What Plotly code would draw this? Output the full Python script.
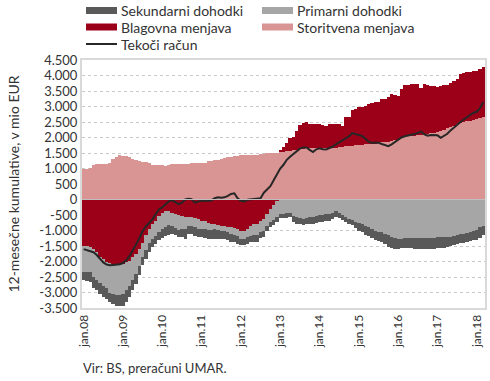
import plotly.graph_objects as go

# ---------------- data ----------------
MONTHS = ["jan", "feb", "mar", "apr", "maj", "jun", "jul", "avg", "sep", "okt", "nov", "dec"]
YEARS = ["08", "09", "10", "11", "12", "13", "14", "15", "16", "17", "18"]
categories = [f"{m}.{y}" for y in YEARS for m in MONTHS][:123]

storitvena = [
    970, 990, 1010, 1120, 1150, 1160, 1160, 1160, 1170, 1300,
    1380, 1420, 1410, 1390, 1360, 1300, 1260, 1240, 1220, 1200,
    1180, 1110, 1100, 1110, 1100, 1090, 1100, 1130, 1150, 1150,
    1150, 1140, 1150, 1180, 1180, 1180, 1190, 1180, 1240, 1250,
    1260, 1270, 1300, 1340, 1360, 1370, 1400, 1410, 1420, 1430,
    1420, 1430, 1440, 1450, 1460, 1480, 1490, 1490, 1500, 1510,
    1520, 1530, 1560, 1580, 1590, 1600, 1620, 1640, 1650, 1650,
    1660, 1650, 1660, 1660, 1670, 1660, 1670, 1670, 1680, 1690,
    1710, 1720, 1740, 1750, 1760, 1770, 1780, 1780, 1790, 1800,
    1820, 1840, 1850, 1860, 1880, 1920, 1960, 2000, 2020, 2040,
    2050, 2060, 2070, 2080, 2100, 2120, 2140, 2160, 2180, 2200,
    2250, 2300, 2330, 2380, 2430, 2470, 2490, 2520, 2540, 2570,
    2600, 2630, 2670,
]

blagovna = [
    -1500, -1510, -1530, -1600, -1700, -1850, -1930, -2000, -2060, -2090,
    -2100, -2090, -2080, -2030, -1980, -1870, -1770, -1600, -1390, -1150,
    -960, -800, -680, -520, -450, -380, -370, -440, -460, -500,
    -530, -560, -560, -580, -600, -640, -680, -700, -760, -790,
    -800, -820, -840, -860, -880, -900, -930, -960, -1000, -1010,
    -960, -840, -800, -780, -700, -620, -470, -320, -170, -60,
    80, 170, 270, 410, 430, 600, 790, 840, 840, 770,
    780, 800, 770, 730, 710, 780, 780, 760, 740, 690,
    940, 940, 1160, 1180, 1210, 1210, 1250, 1290, 1310, 1330,
    1320, 1400, 1380, 1440, 1520, 1460, 1390, 1560, 1670, 1660,
    1670, 1650, 1650, 1530, 1620, 1580, 1530, 1490, 1460, 1460,
    1440, 1400, 1440, 1450, 1450, 1570, 1590, 1590, 1580, 1560,
    1540, 1590, 1590,
]

primarni = [
    -840, -830, -810, -900, -900, -850, -870, -870, -940, -960,
    -990, -1000, -980, -900, -820, -730, -630, -550, -460, -470,
    -440, -470, -490, -530, -500, -500, -460, -410, -460, -470,
    -430, -380, -310, -260, -280, -300, -270, -260, -220, -180,
    -160, -160, -160, -150, -170, -220, -220, -230, -260, -260,
    -250, -330, -360, -370, -360, -410, -380, -420, -490, -520,
    -480, -470, -440, -450, -520, -560, -600, -620, -590, -570,
    -560, -530, -510, -490, -470, -460, -430, -360, -420, -500,
    -560, -630, -660, -720, -770, -800, -860, -900, -950, -1000,
    -1040, -1060, -1100, -1150, -1200, -1250, -1270, -1260, -1240, -1230,
    -1240, -1250, -1240, -1230, -1240, -1250, -1240, -1230, -1220, -1210,
    -1210, -1200, -1200, -1190, -1150, -1120, -1100, -1090, -1060, -1010,
    -980, -900, -840,
]

sekundarni = [
    -260, -300, -330, -350, -330, -340, -350, -350, -300, -330,
    -340, -340, -360, -370, -340, -330, -310, -290, -270, -290,
    -290, -260, -255, -250, -290, -300, -330, -250, -230, -250,
    -240, -320, -250, -260, -300, -270, -270, -280, -290, -300,
    -320, -300, -270, -250, -250, -250, -230, -230, -210, -210,
    -210, -210, -210, -210, -190, -170, -160, -160, -170, -160,
    -130, -140, -150, -130, -200, -220, -200, -190, -200, -210,
    -230, -240, -230, -220, -210, -220, -200, -210, -190, -150,
    -160, -150, -170, -200, -230, -250, -270, -290, -300, -310,
    -300, -300, -350, -380, -380, -360, -330, -310, -320, -330,
    -330, -340, -360, -380, -370, -350, -350, -360, -360, -360,
    -350, -320, -290, -290, -290, -280, -290, -280, -280, -310,
    -320, -330, -320,
]

tekoci_racun = [
    -1600, -1630, -1660, -1700, -1790, -1900, -2030, -2100, -2120, -2110,
    -2100, -2090, -2050, -1960, -1820, -1650, -1450, -1250, -1020, -870,
    -740, -640, -470, -320, -250, -150, -60, -20, -80, -150,
    -100, 0, 20, 10, -100, -60, -50, -30, -40, -30,
    40, 75, 60, 70, 120, 180, 200, 40, -40, -60,
    -10, 0, 30, 20, 40, 220, 330, 430, 620, 820,
    1000, 1120, 1280, 1380, 1460, 1560, 1640, 1680, 1680, 1600,
    1530, 1620, 1650, 1620, 1610, 1660, 1700, 1780, 1840, 1900,
    1960, 2040, 2140, 2110, 2070, 2050, 1960, 1860, 1830, 1820,
    1830, 1790, 1760, 1720, 1780, 1850, 1920, 2000, 2040, 2060,
    2090, 2110, 2150, 2190, 2100, 2060, 2080, 2080, 2070, 1990,
    2060, 2120, 2230, 2330, 2420, 2500, 2580, 2650, 2730, 2800,
    2830, 2950, 3150,
]

x_tick_labels = ["jan.08", "jan.09", "jan.10", "jan.11", "jan.12", "jan.13",
                 "jan.14", "jan.15", "jan.16", "jan.17", "jan.18"]
y_tick_values = [-3500, -3000, -2500, -2000, -1500, -1000, -500, 0,
                 500, 1000, 1500, 2000, 2500, 3000, 3500, 4000, 4500]
y_tick_labels = ["-3.500", "-3.000", "-2.500", "-2.000", "-1.500", "-1.000", "-500", "0",
                 "500", "1.000", "1.500", "2.000", "2.500", "3.000", "3.500", "4.000", "4.500"]

names = {
    "sek": "Sekundarni dohodki",
    "prim": "Primarni dohodki",
    "blag": "Blagovna menjava",
    "stor": "Storitvena menjava",
    "tr": "Tekoči račun",
}

# ---------------- styling ----------------
C_SEK = "#595959"
C_PRIM = "#a6a6a6"
C_BLAG = "#9c0019"
C_STOR = "#d99594"
C_LINE = "#262626"
FONT = "Lato"
TXT = "#333333"

W, H = 490, 381
ML, MR, MT, MB = 82, 5, 60, 73
PW, PH = W - ML - MR, H - MT - MB


def px(x):
    return (x - ML) / PW


def py(y):
    return (H - MB - y) / PH


fig = go.Figure()
for key, vals, col in [("stor", storitvena, C_STOR), ("blag", blagovna, C_BLAG),
                       ("prim", primarni, C_PRIM), ("sek", sekundarni, C_SEK)]:
    fig.add_trace(go.Bar(x=categories, y=vals, name=names[key],
                         marker=dict(color=col, line=dict(width=0)),
                         showlegend=False))
fig.add_trace(go.Scatter(x=categories, y=tekoci_racun, name=names["tr"], mode="lines",
                         line=dict(color=C_LINE, width=2), showlegend=False))

# manual legend
shapes = []
annotations = []
legend_items = [
    ("sek", C_SEK, 86, 10.5, "bar"), ("prim", C_PRIM, 262, 10.5, "bar"),
    ("blag", C_BLAG, 86, 27, "bar"), ("stor", C_STOR, 262, 27, "bar"),
    ("tr", C_LINE, 86, 44, "line"),
]
for key, col, x0, yc, kind in legend_items:
    if kind == "bar":
        shapes.append(dict(type="rect", xref="paper", yref="paper",
                           x0=px(x0), x1=px(x0 + 31), y0=py(yc + 3.5), y1=py(yc - 3.5),
                           fillcolor=col, line=dict(width=0)))
    else:
        shapes.append(dict(type="line", xref="paper", yref="paper",
                           x0=px(x0), x1=px(x0 + 31), y0=py(yc), y1=py(yc),
                           line=dict(color=col, width=2)))
    annotations.append(dict(text=names[key], xref="paper", yref="paper",
                            x=px(x0 + 33), y=py(yc), xanchor="left", yanchor="middle",
                            showarrow=False, font=dict(family=FONT, size=14, color=TXT)))

# zero line above bars
shapes.append(dict(type="line", xref="paper", yref="y", x0=0, x1=1, y0=0, y1=0,
                   line=dict(color="#bfbfbf", width=1), layer="above"))

annotations.append(dict(text="Vir: BS, preračuni UMAR.", xref="paper", yref="paper",
                        x=px(81), y=py(368), xanchor="left", yanchor="middle",
                        showarrow=False, font=dict(family=FONT, size=13, color=TXT)))

fig.update_layout(
    width=W, height=H,
    margin=dict(l=ML, r=MR, t=MT, b=MB),
    paper_bgcolor="white", plot_bgcolor="white",
    barmode="relative", bargap=0,
    font=dict(family=FONT, size=13, color=TXT),
    shapes=shapes, annotations=annotations,
    showlegend=False,
)
fig.update_xaxes(
    type="category", range=[-0.5, len(categories) - 0.5],
    tickvals=x_tick_labels, ticktext=x_tick_labels, tickangle=-90,
    tickfont=dict(family=FONT, size=12, color=TXT),
    showgrid=False, zeroline=False, ticks="", automargin=False,
    showline=True, mirror=True, linecolor="#d9d9d9", linewidth=2,
)
fig.update_yaxes(
    range=[-3500, 4500], tickvals=y_tick_values, ticktext=y_tick_labels,
    tickfont=dict(family=FONT, size=13, color=TXT),
    showgrid=True, gridcolor="#c8c8c8", griddash="dot", gridwidth=1,
    zeroline=False, ticks="", automargin=False,
    showline=True, mirror=True, linecolor="#d9d9d9", linewidth=2,
    title=dict(text="12-mesečne kumulative, v mio EUR",
               font=dict(family=FONT, size=14, color=TXT), standoff=16),
)

fig.write_html("out.html", config={"displayModeBar": False},
               post_script="document.body.style.margin='0';document.body.style.padding='0';")
